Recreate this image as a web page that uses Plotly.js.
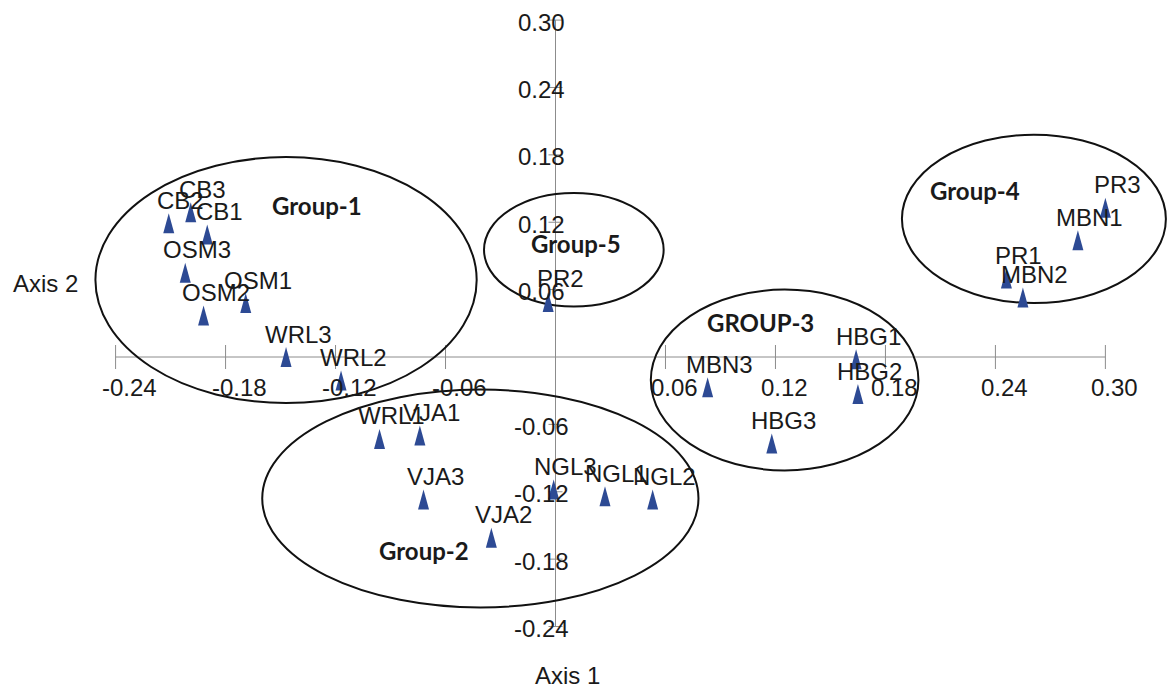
<!DOCTYPE html>
<html><head><meta charset="utf-8">
<script src="https://cdn.plot.ly/plotly-3.0.1.min.js"></script>
<style>html,body{margin:0;padding:0;background:#fff;}#chart{width:1167px;height:690px;}</style>
</head><body><div id="chart"></div>
<script>
// Sample scores (Axis 1, Axis 2)
const sampleNames = ['CB1','CB2','CB3','OSM1','OSM2','OSM3','WRL1','WRL2','WRL3','VJA1','VJA2','VJA3','NGL1','NGL2','NGL3','PR1','PR2','PR3','MBN1','MBN2','MBN3','HBG1','HBG2','HBG3'];
const axis1Scores = [-0.190,-0.211,-0.199,-0.169,-0.192,-0.202,-0.096,-0.117,-0.147,-0.074,-0.035,-0.072,0.027,0.053,-0.001,0.246,-0.004,0.300,0.285,0.255,0.083,0.164,0.165,0.118];
const axis2Scores = [0.109,0.119,0.129,0.048,0.037,0.075,-0.073,-0.021,0.000,-0.070,-0.161,-0.127,-0.124,-0.127,-0.118,0.070,0.049,0.133,0.104,0.053,-0.027,-0.002,-0.033,-0.077];

// Group enclosures
const groupNames = ['Group-1','Group-2','GROUP-3','Group-4','Group-5'];
const groupLabelX = [-0.130,-0.072,0.112,0.229,0.011];
const groupLabelY = [0.135,-0.172,0.031,0.148,0.101];
const groupXMin = [-0.251,-0.160,0.052,0.189,-0.039];
const groupXMax = [-0.043,0.078,0.198,0.333,0.059];
const groupYMin = [-0.041,-0.223,-0.101,0.048,0.045];
const groupYMax = [0.178,-0.029,0.060,0.198,0.146];

// Axis ticks
const xTicks = [-0.24,-0.18,-0.12,-0.06,0.06,0.12,0.18,0.24,0.30];
const yTicks = [-0.24,-0.18,-0.12,-0.06,0.06,0.12,0.18,0.24,0.30];
const xTickLabels = ['-0.24','-0.18','-0.12','-0.06','0.06','0.12','0.18','0.24','0.30'];
const yTickLabels = ['-0.24','-0.18','-0.12','-0.06','0.06','0.12','0.18','0.24','0.30'];

const FONT = 'Liberation Sans, Arial, sans-serif';
const AXIS_COLOR = '#8c8c8c';
const MARK_COLOR = '#2d4a94';

const shapes = [];
// axis lines
shapes.push({type:'line', xref:'x', yref:'y', x0:xTicks[0], x1:xTicks[xTicks.length-1], y0:0, y1:0, line:{color:AXIS_COLOR, width:1}, layer:'below'});
shapes.push({type:'line', xref:'x', yref:'y', x0:0, x1:0, y0:yTicks[0], y1:yTicks[yTicks.length-1], line:{color:AXIS_COLOR, width:1}, layer:'below'});
xTicks.forEach(v => shapes.push({type:'line', xref:'x', yref:'y', ysizemode:'pixel', yanchor:0, x0:v, x1:v, y0:-12, y1:12, line:{color:AXIS_COLOR, width:1}, layer:'below'}));
yTicks.forEach(v => shapes.push({type:'line', xref:'x', yref:'y', xsizemode:'pixel', xanchor:0, x0:-7, x1:7, y0:v, y1:v, line:{color:AXIS_COLOR, width:1}, layer:'below'}));
// group ellipses
groupNames.forEach((g,i) => shapes.push({type:'circle', xref:'x', yref:'y', x0:groupXMin[i], x1:groupXMax[i], y0:groupYMin[i], y1:groupYMax[i], line:{color:'#111', width:2}, fillcolor:'rgba(0,0,0,0)'}));
// tall triangle markers
sampleNames.forEach((s,i) => shapes.push({type:'path', xref:'x', yref:'y', xsizemode:'pixel', ysizemode:'pixel', xanchor:axis1Scores[i], yanchor:axis2Scores[i], path:'M-5.5,-10L5.5,-10L0,10Z', fillcolor:MARK_COLOR, line:{width:0}}));

const annotations = [];
sampleNames.forEach((s,i) => annotations.push({x:axis1Scores[i], y:axis2Scores[i], xref:'x', yref:'y', text:s, showarrow:false, xanchor:'center', yanchor:'middle', xshift:12, yshift:23, font:{family:FONT, size:24, color:'#1a1a1a'}}));
groupNames.forEach((g,i) => annotations.push({x:groupLabelX[i], y:groupLabelY[i], xref:'x', yref:'y', text:g, showarrow:false, xanchor:'center', yanchor:'middle', font:{family:'Lato, "Open Sans", sans-serif', size:24, color:'#1a1a1a', weight:700}}));
xTicks.forEach((v,i) => annotations.push({x:v, y:0, xref:'x', yref:'y', text:xTickLabels[i], showarrow:false, xanchor:'left', yanchor:'middle', xshift:-16, yshift:-30, font:{family:FONT, size:24, color:'#1a1a1a'}}));
yTicks.forEach((v,i) => annotations.push({x:0, y:v, xref:'x', yref:'y', text:yTickLabels[i], showarrow:false, xanchor:'center', yanchor:'middle', xshift:-14.5, yshift:-2, font:{family:FONT, size:24, color:'#1a1a1a'}}));
annotations.push({x:45/1167, y:1-283/690, xref:'paper', yref:'paper', text:'Axis 2', showarrow:false, xanchor:'center', yanchor:'middle', font:{family:FONT, size:24, color:'#1a1a1a'}});
annotations.push({x:567/1167, y:1-675/690, xref:'paper', yref:'paper', text:'Axis 1', showarrow:false, xanchor:'center', yanchor:'middle', font:{family:FONT, size:24, color:'#1a1a1a'}});

const trace = {
  type:'scatter', mode:'markers', x:axis1Scores, y:axis2Scores, text:sampleNames,
  hovertemplate:'%{text}<br>Axis 1: %{x}<br>Axis 2: %{y}<extra></extra>',
  marker:{symbol:'triangle-up', size:12, color:MARK_COLOR, opacity:0}, showlegend:false
};

const layout = {
  width:1167, height:690,
  margin:{l:0, r:0, t:0, b:0},
  paper_bgcolor:'#ffffff', plot_bgcolor:'#ffffff',
  xaxis:{range:[-0.30306, 0.33361], visible:false, fixedrange:true},
  yaxis:{range:[-0.29653, 0.31790], visible:false, fixedrange:true},
  shapes:shapes, annotations:annotations, showlegend:false
};
Plotly.newPlot('chart', [trace], layout, {displayModeBar:false, staticPlot:true});
</script>
</body></html>
